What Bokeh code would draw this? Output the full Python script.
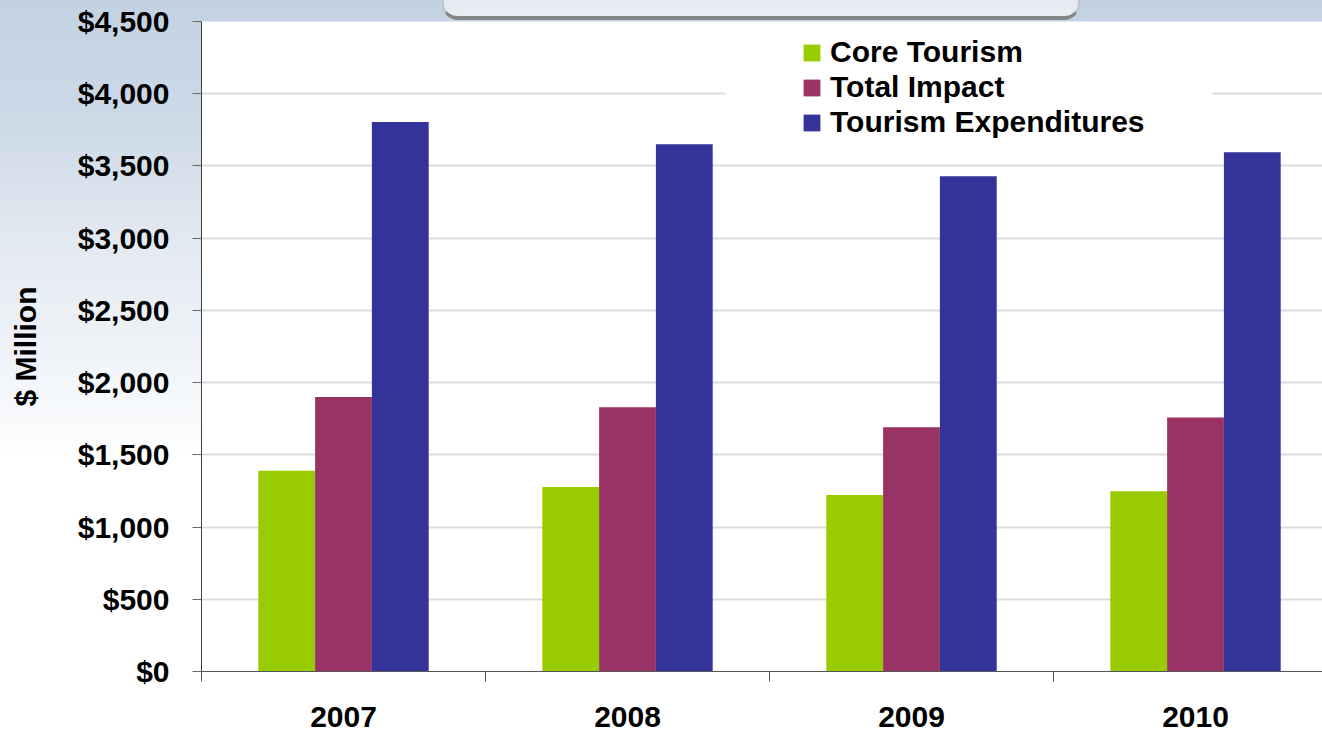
from bokeh.plotting import figure
from bokeh.models import (Range1d, FixedTicker, Legend, LegendItem, BoxAnnotation,
                          InlineStyleSheet)
from bokeh.embed import file_html
from bokeh.resources import INLINE

# ---- data ----
years = ["2007", "2008", "2009", "2010"]
core_tourism = [1390, 1277, 1222, 1248]
total_impact = [1900, 1830, 1691, 1759]
tourism_expenditures = [3804, 3650, 3429, 3595]
series_names = ["Core Tourism", "Total Impact", "Tourism Expenditures"]
y_ticks = [0, 500, 1000, 1500, 2000, 2500, 3000, 3500, 4000, 4500]
y_tick_labels = ["$0", "$500", "$1,000", "$1,500", "$2,000", "$2,500",
                 "$3,000", "$3,500", "$4,000", "$4,500"]

colors = ["#99cc00", "#993366", "#333399"]
FONT = "Liberation Sans"

W, H = 1322, 733
LEFT, TOP, BOTTOM = 201, 21, 62

centers = list(range(len(years)))
x_end = -0.5 + (W - LEFT) / 284.0

p = figure(width=W, height=H, output_backend="svg", toolbar_location=None,
           x_range=Range1d(-0.5, x_end), y_range=Range1d(0, 4500),
           min_border_left=LEFT, min_border_right=0, min_border_top=TOP,
           min_border_bottom=BOTTOM)
p.outline_line_color = None
p.background_fill_color = "white"
p.border_fill_color = "white"
p.border_fill_alpha = 0.0

# page background: light-blue gradient behind the border area, plus the header tab
p.styles = {
    "background": ("linear-gradient(to bottom, #c3d2e2 0px, #ccd9e7 120px, #e4eaf1 250px, "
                   "#eff3f8 350px, #f8fafc 420px, #ffffff 460px, #ffffff 100%)"),
}
p.stylesheets = [InlineStyleSheet(css="""
:host { position: relative; }
:host::before {
  content: ''; position: absolute; left: 442px; top: -24px; width: 634px; height: 38px;
  background: linear-gradient(to bottom, #dde4ec, #e9eef4);
  border: 2px solid #bfc5cd; border-bottom: 4px solid #858585;
  border-radius: 0 0 16px 16px; z-index: 0; pointer-events: none;
}
""")]

# bars
offsets = [-0.2, 0.0, 0.2]
series = [core_tourism, total_impact, tourism_expenditures]
renderers = []
for vals, off, c in zip(series, offsets, colors):
    r = p.vbar(x=[xc + off for xc in centers], top=vals, width=0.2,
               fill_color=c, line_color=None)
    renderers.append(r)

# axes
xa = p.xaxis[0]
xa.ticker = FixedTicker(ticks=centers, minor_ticks=[c - 0.5 for c in centers] + [centers[-1] + 0.5])
xa.major_label_overrides = {c: y for c, y in zip(centers, years)}
xa.major_tick_out = 0
xa.major_tick_in = 0
xa.minor_tick_out = 10
xa.minor_tick_in = 0
xa.minor_tick_line_color = "#555555"
xa.axis_line_color = "#555555"
xa.major_label_text_font = FONT
xa.major_label_text_font_style = "bold"
xa.major_label_text_font_size = "30px"
xa.major_label_text_color = "black"
xa.major_label_standoff = 25

ya = p.yaxis[0]
ya.ticker = FixedTicker(ticks=y_ticks)
ya.major_label_overrides = {t: l for t, l in zip(y_ticks, y_tick_labels)}
ya.major_tick_out = 9
ya.major_tick_in = 0
ya.minor_tick_line_color = None
ya.major_tick_line_color = "#666666"
ya.axis_line_color = "#404040"
ya.major_label_text_font = FONT
ya.major_label_text_font_style = "bold"
ya.major_label_text_font_size = "30px"
ya.major_label_text_color = "black"
ya.major_label_standoff = 23
ya.axis_label = "$ Million"
ya.axis_label_text_font = FONT
ya.axis_label_text_font_style = "bold"
ya.axis_label_text_font_size = "30px"
ya.axis_label_text_color = "black"
ya.axis_label_standoff = 33

p.xgrid.grid_line_color = None
p.ygrid.ticker = FixedTicker(ticks=y_ticks[1:-1])
p.ygrid.grid_line_color = "#dcdcdc"
p.ygrid.grid_line_width = 2

# legend white backing
p.add_layout(BoxAnnotation(left=1.345, right=3.06, top=4452, bottom=3700,
                           fill_color="white", fill_alpha=1.0, line_color=None))

legend = Legend(items=[LegendItem(label=n, renderers=[r]) for n, r in zip(series_names, renderers)],
                location=(600, 532), padding=0, margin=0, spacing=1,
                glyph_width=21, glyph_height=21, label_standoff=8, label_height=30,
                label_text_font=FONT, label_text_font_style="bold",
                label_text_font_size="30px", label_text_color="black",
                background_fill_alpha=0, border_line_color=None)
p.add_layout(legend, "center")

open("out.html", "w").write(file_html(p, INLINE))
